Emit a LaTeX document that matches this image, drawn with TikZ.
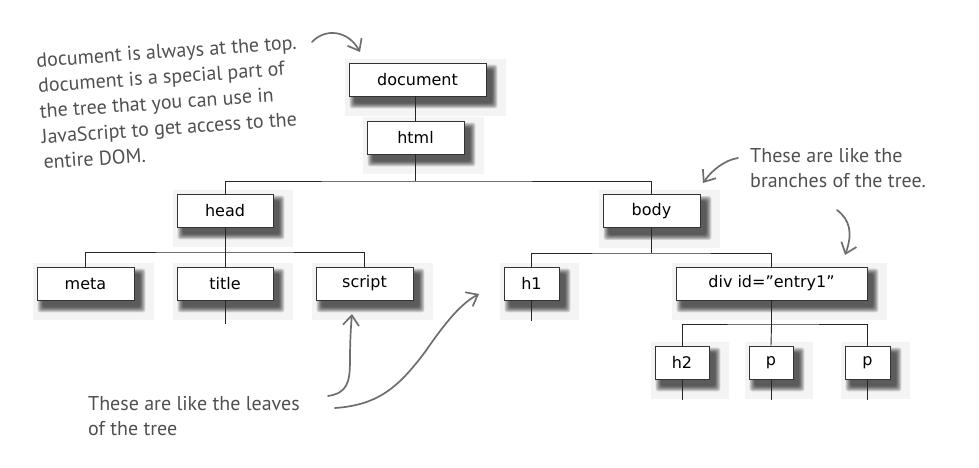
\documentclass[tikz,border=0pt]{standalone}
\usepackage{fontspec}
\setmainfont{DejaVu Sans}
\newfontfamily\handfont{PT Sans}
\usetikzlibrary{arrows.meta,backgrounds}
\pgfdeclarelayer{shadowlayer}
\pgfsetlayers{background,shadowlayer,main}
\definecolor{inkgray}{HTML}{505050}
\definecolor{arrowgray}{HTML}{6E6E6E}
\definecolor{bgsq}{HTML}{F4F4F4}
\begin{document}
\begin{tikzpicture}[x=1pt,y=-1pt,
  dombox/.style={draw=black!80, line width=0.9pt, fill=white, minimum height=33pt,
    inner sep=0pt, font=\fontsize{16}{19}\selectfont},
  softshadow/.style={fill=black, opacity=0.15, rounded corners=3pt},
  link/.style={draw=black!85, line width=0.9pt},
  note/.style={text=inkgray, font=\handfont\fontsize{20}{25.5}\selectfont, align=left, inner sep=0pt},
  hand/.style={draw=arrowgray, line width=1.7pt, line cap=round,
    -{Straight Barb[length=10pt,width=16pt,line width=1.7pt]}}
]
\useasboundingbox (0,0) rectangle (979,468);

% boxes
\node[dombox, minimum width=137pt] (document) at (417.5,79.5) {document};
\node[dombox, minimum width=97pt] (html) at (415.5,137.5) {html};
\node[dombox, minimum width=96pt] (head) at (225,210.5) {head};
\node[dombox, minimum width=97pt] (body) at (651.5,211) {body};
\node[dombox, minimum width=97pt] (meta) at (85.5,283.5) {meta};
\node[dombox, minimum width=96pt] (title) at (225,283.5) {title};
\node[dombox, minimum width=97pt] (script) at (364.5,283.5) {script};
\node[dombox, minimum width=55pt] (h1) at (531.5,283.5) {h1};
\node[dombox, minimum width=191pt] (div) at (771.5,283.5) {div id="entry1"};
\node[dombox, minimum width=54pt] (h2) at (682,362.5) {h2};
\node[dombox, minimum width=44pt] (p1) at (771,362.5) {p};
\node[dombox, minimum width=45pt] (p2) at (867.5,362.5) {p};

% light squares behind boxes
\begin{scope}[on background layer]
  \fill[white] (0,0) rectangle (979,468);
  \foreach \n in {document,html,head,body,meta,title,script,h1,div,h2,p1,p2}{
    \fill[bgsq] ([shift={(-4,-4)}]\n.north west) rectangle ([shift={(20,20)}]\n.south east);
  }
\end{scope}

% soft drop shadows
\begin{pgfonlayer}{shadowlayer}
  \foreach \n in {document,html,head,body,meta,title,script,h1,div,h2,p1,p2}{
    \foreach \d in {5,4,3,2,1,0}{
      \fill[softshadow] ([shift={(6-\d,7-\d)}]\n.north west) rectangle ([shift={(6+\d,7+\d)}]\n.south east);
    }
  }
\end{pgfonlayer}

% tree connectors
\coordinate (topj) at (415.5,181);
\coordinate (hj) at (225,252);
\coordinate (bj) at (651.5,253);
\coordinate (dj) at (771.5,324);
\draw[link] (html.north |- document.south) -- (html.north);
\draw[link] (html.south) -- (html.south |- topj);
\draw[link] (head.north) |- (topj) -| (body.north);
\draw[link] (head.south) -- (title.north);
\draw[link] (meta.north) |- (hj) -| (script.north);
\draw[link] (body.south) -- (bj);
\draw[link] (h1.north) |- (bj) -| (div.north);
\draw[link] (div.south) -- (dj);
\draw[link] (h2.north) |- (dj) -| (p2.north);
\draw[link] (dj) -- (p1.north);
\draw[link] (title.south) -- ++(0,24);
\draw[link] (h1.south) -- ++(0,21);
\draw[link] (h2.south) -- ++(0,21);
\draw[link] (p1.south) -- ++(0,21);
\draw[link] (p2.south) -- ++(0,21);

% notes
\node[note, rotate=4] (topnote) at (170,102) {document is always at the top.\\document is a special part of\\the tree that you can use in\\JavaScript to get access to the\\entire DOM.};
\node[note, anchor=west] (branchnote) at (750,168) {These are like the\\branches of the tree.};
\node[note, anchor=west] (leafnote) at (88,416) {These are like the leaves\\of the tree};

% hand arrows
\coordinate (a1s) at (312,42);   \coordinate (a1e) at (360,52);
\coordinate (a2s) at (738,158);  \coordinate (a2e) at (703,183);
\coordinate (a3s) at (837,210);  \coordinate (a3e) at (845,255);
\coordinate (a4s) at (328,396);  \coordinate (a4e) at (352,314);
\coordinate (a5s) at (335,408);  \coordinate (a5e) at (479,294);
\draw[hand] (a1s) .. controls (325,28) and (348,30) .. (a1e);
\draw[hand] (a2s) .. controls (725,160) and (712,170) .. (a2e);
\draw[hand] (a3s) .. controls (850,220) and (853,233) .. (a3e);
\draw[hand] (a4s) .. controls (347,393) and (350,383) .. (350,360) .. controls (350,340) and (351,325) .. (a4e);
\draw[hand] (a5s) .. controls (380,405) and (400,385) .. (425,352) .. controls (447,320) and (462,303) .. (a5e);
\end{tikzpicture}
\end{document}
